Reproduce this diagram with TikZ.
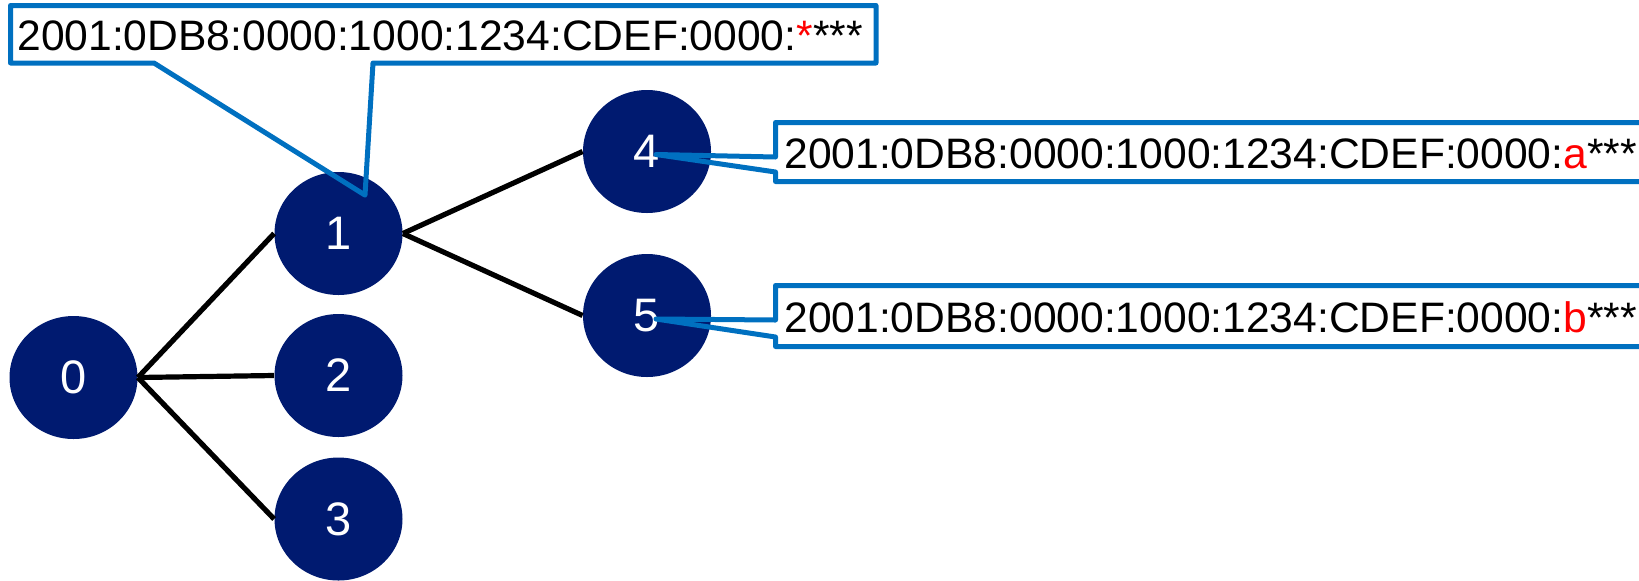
\documentclass[tikz,border=0pt]{standalone}
\usepackage{fontspec}
\setmainfont{Liberation Sans}
\usepackage{xcolor}
\usetikzlibrary{positioning, shapes.geometric, calc}
\definecolor{navy}{HTML}{001A70}
\definecolor{calloutblue}{HTML}{0070C0}
\definecolor{hilite}{HTML}{FF0000}

\begin{document}
\begin{tikzpicture}[x=0.5pt, y=-0.5pt,
    treenode/.style={ellipse, fill=navy, text=white, inner sep=0pt,
      minimum width=64pt, minimum height=61.5pt, font=\fontsize{23.5}{24}\selectfont},
    edge/.style={line width=2.6pt},
    callout/.style={draw=calloutblue, line width=2.5pt, line join=round},
    addr/.style={anchor=base west, inner sep=0pt, font=\fontsize{21.3}{25}\selectfont}]
    \useasboundingbox (0,0) rectangle (1639,580);
    \clip (0,0) rectangle (1639,580);
    % tree
    \node[treenode] (n0) at (73.5,377.5) {0};
    \node[treenode] (n1) at (338.5,233.5) {1};
    \node[treenode] (n2) at (338.5,375.5) {2};
    \node[treenode] (n3) at (338.5,519) {3};
    \node[treenode] (n4) at (647,151.5) {4};
    \node[treenode] (n5) at (647,315.5) {5};
    \draw[edge] (n0.east) -- (n1.west);
    \draw[edge] (n0.east) -- (n2.west);
    \draw[edge] (n0.east) -- (n3.west);
    \draw[edge] (n1.east) -- (n4.west);
    \draw[edge] (n1.east) -- (n5.west);
    % callouts
    \node[addr] (a1) at (17,50) {2001:0DB8:0000:1000:1234:CDEF:0000:\textcolor{hilite}{*}***};
    \draw[callout] (373,63) -- (876,63) -- (876,5.5) -- (10.5,5.5) -- (10.5,63) -- (154,63)
      -- ($(n1.north)+(26.5,23.5)$) -- cycle;
    \node[addr] (a4) at (784,168) {2001:0DB8:0000:1000:1234:CDEF:0000:\textcolor{hilite}{a}***};
    \draw[callout] (775.5,157) -- (775.5,122.5) -- (1680,122.5) -- (1680,181.5) -- (775.5,181.5)
      -- (775.5,172) -- ($(n4.center)+(9,3)$) -- cycle;
    \node[addr] (a5) at (784,332) {2001:0DB8:0000:1000:1234:CDEF:0000:\textcolor{hilite}{b}***};
    \draw[callout] (775.5,320) -- (775.5,285.5) -- (1680,285.5) -- (1680,346.5) -- (775.5,346.5)
      -- (775.5,337) -- ($(n5.center)+(9,3.5)$) -- cycle;
\end{tikzpicture}
\end{document}
